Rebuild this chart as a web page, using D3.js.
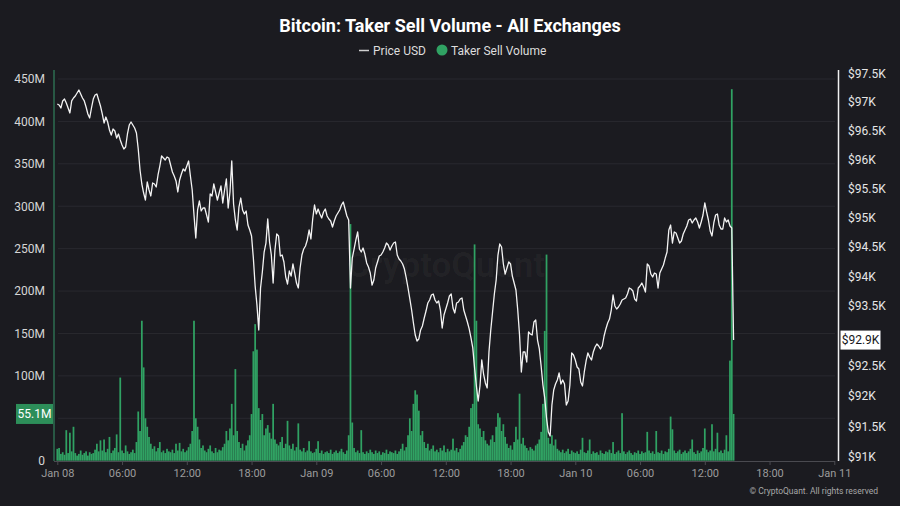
<!DOCTYPE html>
<html><head><meta charset="utf-8">
<script src="https://cdn.jsdelivr.net/npm/d3@7"></script>
<style>html,body{margin:0;padding:0;background:#1b1b20;} svg{display:block;}</style>
</head><body>
<svg id="chart" width="900" height="506"></svg>
<script>
const titleText = "Bitcoin: Taker Sell Volume - All Exchanges";
const legendLabels = ["Price USD", "Taker Sell Volume"];
const startTime = "2025-01-08T00:00:00Z";
const stepMinutes = 10;
const xDomain = ["2025-01-08T00:00:00Z", "2025-01-11T00:00:00Z"];
const volumeTicks = [0, 50, 100, 150, 200, 250, 300, 350, 400, 450];
const priceTicks = [91000, 91500, 92000, 92500, 93000, 93500, 94000, 94500, 95000, 95500, 96000, 96500, 97000, 97500];

// Price USD, every 10 minutes from Jan 08 00:00
const price = [
96963,96946,96893,97016,97050,96981,96893,96806,97016,97068,
97103,97155,97207,97137,97068,97016,96911,96789,96719,96893,
97050,97120,97137,97033,96928,96789,96632,96736,96649,96510,
96423,96527,96493,96371,96441,96337,96250,96181,96216,96441,
96597,96649,96597,96545,96458,96181,95818,95577,95422,95302,
95612,95474,95371,95594,95577,95526,95732,95887,96060,96025,
95991,96043,96025,95904,95784,95715,95629,95440,95646,95749,
95835,95801,95887,95973,95715,95474,95045,94652,95131,95285,
95114,95165,95165,95045,94926,95405,95371,95577,95440,95302,
95422,95543,95251,95474,95663,95165,95440,95973,95234,94960,
94789,95182,95336,95131,95063,95114,94874,94789,94687,94312,
93839,93519,93099,93805,94075,94414,94567,94977,94585,94363,
93889,94448,94721,94687,94346,94363,94245,93990,93872,94092,
94007,94211,94058,93889,93805,94143,94363,94465,94516,94619,
94789,94636,94977,95217,95063,95148,95063,94994,95097,95148,
95028,94977,94943,94840,94943,95028,95080,95131,95217,95268,
95148,95028,94960,93805,94312,94465,94619,94755,94465,94414,
94482,94380,94228,94160,94058,93855,93940,94143,94245,94346,
94363,94414,94482,94567,94533,94448,94516,94567,94585,94363,
94295,94262,94211,94126,93974,93805,93620,93434,93216,93015,
92914,92948,93099,93166,93300,93417,93552,93603,93687,93704,
93603,93552,93586,93434,93132,93350,93451,93552,93670,93704,
93468,93384,93552,93569,93620,93636,93434,93333,93233,93116,
92965,92798,92464,92165,91917,92165,92597,92364,92215,92132,
92731,93099,93401,93704,93940,94363,94551,94500,94211,94041,
94143,94245,94211,94007,93889,93771,93434,93015,92398,92731,
92731,92564,93065,93032,93015,93233,93266,92931,92781,92497,
92182,91966,91636,91405,91340,91850,92099,92198,92265,92381,
92198,92265,92198,91850,91917,92182,92714,92681,92597,92481,
92447,92231,92165,92398,92581,92714,92647,92597,92731,92814,
92864,92831,92781,92831,92998,93116,93216,93283,93434,93687,
93502,93451,93485,93535,93603,93620,93636,93704,93805,93788,
93754,93620,93586,93805,93839,93889,93822,93737,94211,94177,
94041,93991,94058,94041,93805,94058,94126,94194,94312,94414,
94789,94874,94567,94755,94738,94653,94567,94602,94721,94789,
94857,94960,94977,94909,94960,94994,94926,94823,94926,95045,
95251,95097,94960,94772,94687,94909,95045,95063,94874,94806,
94806,94994,94926,94960,94857,94823,92930
];

// Taker sell volume (millions USD), same timestamps
const volume = [
14,15,8,10,7,36,9,33,11,40,
9,6,8,12,7,9,11,6,10,8,
9,13,20,11,24,12,25,10,14,28,
9,12,15,31,10,98,12,9,18,11,
8,10,13,9,22,58,35,165,110,50,
40,28,20,14,17,11,15,22,10,12,
9,14,11,10,13,9,20,12,21,11,
14,10,12,16,20,35,165,50,40,25,
15,18,12,10,14,18,11,9,15,10,
13,12,16,20,35,24,38,67,30,108,
35,22,15,20,12,18,24,30,55,129,
161,131,62,48,55,30,38,42,33,26,
67,25,20,18,22,28,15,20,47,18,
14,20,12,16,44,13,11,15,10,12,
23,11,9,10,14,23,9,12,8,10,
11,9,13,8,10,12,9,11,14,10,
8,12,30,279,45,15,10,12,9,36,
10,8,11,9,13,10,8,12,9,11,
7,10,9,13,8,11,10,9,12,8,
11,14,20,12,16,30,50,35,67,83,
78,59,30,35,22,15,20,12,14,18,
11,13,10,15,12,18,10,14,11,13,
26,12,15,10,14,18,22,30,28,40,
62,67,255,165,43,38,28,35,24,20,
18,25,30,22,40,56,51,35,43,28,
20,15,18,13,22,40,25,79,20,27,
18,15,12,16,14,12,18,20,25,34,
67,153,243,27,20,30,18,25,14,12,
10,13,9,11,14,8,12,10,9,11,
8,13,27,10,9,12,25,8,11,9,
10,7,12,9,8,11,10,13,9,22,
8,10,12,9,56,11,8,10,12,9,
7,10,9,12,8,11,9,10,34,12,
9,11,8,35,10,9,12,8,11,10,
14,52,37,12,9,11,13,8,10,12,
9,11,14,25,10,8,12,9,11,15,
38,13,10,12,43,11,14,33,10,12,
9,13,30,11,118,438,55.1
];

const t0 = new Date(startTime).getTime();
const rows = price.map((p, i) => ({ t: new Date(t0 + i * stepMinutes * 60000), p: p, v: volume[i] }));

const svg = d3.select("#chart");
const W = 900, H = 506;
const bg = "#1b1b20";
const green = "#30a263";
svg.append("rect").attr("width", W).attr("height", H).attr("fill", bg);

const x = d3.scaleUtc().domain(xDomain.map(d => new Date(d))).range([57.3, 834.3]);
const yV = d3.scaleLinear().domain([0, 450]).range([460.7, 79]);
const yP = d3.scaleLog().domain([91000, 97500]).range([456.7, 73.3]);

const lastV = volume[volume.length - 1], lastP = price[price.length - 1];
const vy = yV(lastV), py = yP(lastP);

// grid
svg.append("g").selectAll("line").data(volumeTicks.filter(d => d > 0)).join("line")
  .attr("x1", 58).attr("x2", 835)
  .attr("y1", d => yV(d)).attr("y2", d => yV(d))
  .attr("stroke", "#29292f").attr("stroke-width", 1);

// watermark
svg.append("text").attr("x", 446).attr("y", 277).attr("text-anchor", "middle")
  .attr("font-family", "Roboto, sans-serif").attr("font-weight", 700).attr("font-size", 35)
  .attr("fill", "#ffffff").attr("fill-opacity", 0.035).text("CryptoQuant");

// volume bars
const bw = 1.75;
svg.append("g").selectAll("rect").data(rows).join("rect")
  .attr("x", d => x(d.t) - bw / 2).attr("width", bw)
  .attr("y", d => yV(d.v)).attr("height", d => yV(0) - yV(d.v))
  .attr("fill", green);

// price line
svg.append("path").datum(rows)
  .attr("d", d3.line().x(d => x(d.t)).y(d => yP(d.p)))
  .attr("fill", "none").attr("stroke", "#f4f4f4").attr("stroke-width", 1.3)
  .attr("stroke-linejoin", "round");

// left axis (labels hidden under the last-value badge are skipped, as in the reference)
const gl = svg.append("g").attr("transform", "translate(54,0)")
  .call(d3.axisLeft(yV).tickValues(volumeTicks.filter(d => Math.abs(yV(d) - vy) > 12))
    .tickSize(0).tickPadding(9)
    .tickFormat(d => d === 0 ? "0" : d + "M"));
gl.select(".domain").remove();
gl.selectAll("text").attr("font-family", "Roboto, sans-serif").attr("font-size", 12).attr("fill", "#d6d6d6");
svg.append("line").attr("x1", 54).attr("x2", 54).attr("y1", 70).attr("y2", 461)
  .attr("stroke", "#2e6e50").attr("stroke-width", 1.5);

// right axis
const gr = svg.append("g").attr("transform", "translate(838.5,0)")
  .call(d3.axisRight(yP).tickValues(priceTicks.filter(d => Math.abs(yP(d) - py) > 12))
    .tickSize(0).tickPadding(9.5)
    .tickFormat(d => "$" + (d / 1000) + "K"));
gr.select(".domain").remove();
gr.selectAll("text").attr("font-family", "Roboto, sans-serif").attr("font-size", 12).attr("fill", "#e6e6e6");
svg.append("line").attr("x1", 838.5).attr("x2", 838.5).attr("y1", 70).attr("y2", 461)
  .attr("stroke", "#f0f0f0").attr("stroke-width", 1.5);

// bottom axis
const fmtDay = d3.utcFormat("%b %d"), fmtHour = d3.utcFormat("%H:%M");
const gb = svg.append("g").attr("transform", "translate(0,461)")
  .call(d3.axisBottom(x).ticks(d3.utcHour.every(6)).tickSize(4).tickPadding(4)
    .tickFormat(d => d.getUTCHours() === 0 ? fmtDay(d) : fmtHour(d)));
gb.select(".domain").attr("stroke", "#4a4a50").attr("d", "M54,0.5H835");
gb.selectAll(".tick line").attr("stroke", "#4a4a50");
gb.selectAll("text").attr("font-family", "Roboto, sans-serif").attr("font-size", 11).attr("fill", "#9c9c9c");

// last value labels
svg.append("rect").attr("x", 16).attr("y", vy - 10).attr("width", 37).attr("height", 20).attr("fill", "#2d8e59");
svg.append("text").attr("x", 34.5).attr("y", vy + 4.3).attr("text-anchor", "middle")
  .attr("font-family", "Roboto, sans-serif").attr("font-size", 12).attr("fill", "#ffffff").text(lastV + "M");
svg.append("rect").attr("x", 840.5).attr("y", py - 9.5).attr("width", 40).attr("height", 19).attr("fill", "#ffffff");
svg.append("text").attr("x", 860.5).attr("y", py + 4.3).attr("text-anchor", "middle")
  .attr("font-family", "Roboto, sans-serif").attr("font-size", 12).attr("fill", "#16161a")
  .text("$" + (lastP / 1000).toFixed(1) + "K");

// title
svg.append("text").attr("x", 450).attr("y", 32).attr("text-anchor", "middle")
  .attr("font-family", "Roboto, sans-serif").attr("font-weight", 700).attr("font-size", 18)
  .attr("fill", "#ffffff").text(titleText);

// legend
const lg = svg.append("g");
lg.append("line").attr("x1", 359).attr("x2", 369).attr("y1", 50.5).attr("y2", 50.5)
  .attr("stroke", "#cfcfcf").attr("stroke-width", 1.5);
lg.append("text").attr("x", 373).attr("y", 54.5).attr("font-family", "Roboto, sans-serif")
  .attr("font-size", 12).attr("fill", "#dddddd").text(legendLabels[0]);
lg.append("circle").attr("cx", 442).attr("cy", 50).attr("r", 5.5).attr("fill", green);
lg.append("text").attr("x", 451).attr("y", 54.5).attr("font-family", "Roboto, sans-serif")
  .attr("font-size", 12).attr("fill", "#dddddd").text(legendLabels[1]);

// copyright
svg.append("text").attr("x", 878).attr("y", 494).attr("text-anchor", "end")
  .attr("font-family", "Roboto, sans-serif").attr("font-size", 8.5).attr("fill", "#a8a8a8")
  .text("© CryptoQuant. All rights reserved");
</script>
</body></html>
